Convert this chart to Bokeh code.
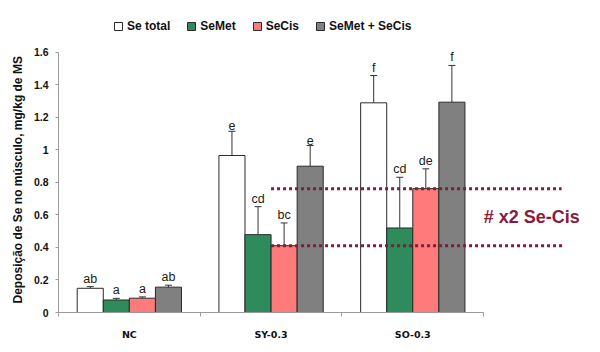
from bokeh.plotting import figure
from bokeh.models import (Range1d, FixedTicker, Legend, LegendItem, Whisker,
                          TeeHead, ColumnDataSource, Label, Title)
from bokeh.core.properties import value
from bokeh.embed import file_html
from bokeh.resources import INLINE

# ---------------- data ----------------
groups = ["NC", "SY-0.3", "SO-0.3"]
series_names = ["Se total", "SeMet", "SeCis", "SeMet + SeCis"]
se_total = [0.149, 0.966, 1.29]
semet = [0.077, 0.479, 0.52]
secis = [0.088, 0.411, 0.762]
semet_secis = [0.156, 0.90, 1.294]
se_total_err = [0.010, 0.149, 0.168]
semet_err = [0.010, 0.172, 0.312]
secis_err = [0.008, 0.140, 0.122]
semet_secis_err = [0.012, 0.127, 0.226]
se_total_letters = ["ab", "e", "f"]
semet_letters = ["a", "cd", "cd"]
secis_letters = ["a", "bc", "de"]
semet_secis_letters = ["ab", "e", "f"]
y_ticks = [0, 0.2, 0.4, 0.6, 0.8, 1.0, 1.2, 1.4, 1.6]
y_tick_labels = ["0", "0.2", "0.4", "0.6", "0.8", "1", "1.2", "1.4", "1.6"]
annotation_text = "# x2 Se-Cis"
y_label = "Deposição de Se no músculo, mg/kg de MS"

values = [se_total, semet, secis, semet_secis]
errors = [se_total_err, semet_err, secis_err, semet_secis_err]
letters = [se_total_letters, semet_letters, secis_letters, semet_secis_letters]
colors = ["#ffffff", "#2e8b5b", "#ff7b7b", "#808080"]

# ---------------- figure ----------------
p = figure(width=600, height=352, output_backend="svg", toolbar_location=None,
           x_range=Range1d(0, 3.754), y_range=Range1d(0, 1.858),
           min_border_left=58, min_border_right=10, min_border_top=10,
           min_border_bottom=40)
p.outline_line_color = None
p.xgrid.grid_line_color = None
p.ygrid.grid_line_color = None
p.background_fill_color = "white"

bw = 0.184
legend_items = []
for j, (name, vals, errs, lets, col) in enumerate(zip(series_names, values, errors, letters, colors)):
    xs = [i + 0.5 + (j - 1.5) * bw for i in range(len(groups))]
    upper = [v + e for v, e in zip(vals, errs)]
    src = ColumnDataSource(dict(x=xs, top=vals, upper=upper, lab=lets))
    r = p.vbar(x="x", top="top", width=bw, source=src, fill_color=col,
               line_color="#2a2a2a", line_width=1)
    legend_items.append(LegendItem(label=name, renderers=[r]))
    w = Whisker(source=src, base="x", upper="upper", lower="top", dimension="height",
                line_color="#333333", line_width=1,
                upper_head=TeeHead(size=7, line_color="#333333", line_width=1),
                lower_head=None)
    p.add_layout(w)
    p.text(x="x", y="upper", text="lab", source=src, text_align="center",
           text_baseline="bottom", y_offset=-1, text_font=value("Liberation Sans"),
           text_font_size="12.5px", text_color="#1a1a1a")

# dotted reference lines at the SeCis levels of SY-0.3 and SO-0.3
p.segment(x0=[1.5, 1.5], x1=[3.55, 3.57], y0=[secis[2], secis[1]], y1=[secis[2], secis[1]],
          line_color="#7b1f38", line_width=3, line_dash="3 3")
p.add_layout(Label(x=3.0, y=(secis[1] + secis[2]) / 2, text=annotation_text,
                   text_baseline="middle", text_align="left",
                   text_font="Liberation Sans", text_font_style="bold",
                   text_font_size="18px", text_color="#8b1a3c"))

# x axis
xa = p.xaxis[0]
xa.ticker = FixedTicker(ticks=[0.5, 1.5, 2.5], minor_ticks=[0, 1, 2, 3])
xa.major_label_overrides = {0.5: groups[0], 1.5: groups[1], 2.5: groups[2]}
xa.bounds = (0, 3)
xa.axis_line_color = "#9a9a9a"
xa.major_tick_out = 0
xa.major_tick_in = 0
xa.major_tick_line_color = None
xa.minor_tick_out = 4
xa.minor_tick_in = 0
xa.minor_tick_line_color = "#9a9a9a"
xa.major_label_standoff = 12
xa.major_label_text_font = "DejaVu Sans"
xa.major_label_text_font_style = "bold"
xa.major_label_text_font_size = "9.5px"
xa.major_label_text_color = "#111111"

# y axis
ya = p.yaxis[0]
ya.ticker = FixedTicker(ticks=y_ticks, minor_ticks=[])
ya.major_label_overrides = {t: l for t, l in zip(y_ticks, y_tick_labels)}
ya.bounds = (0, 1.6)
ya.axis_line_color = "#9a9a9a"
ya.major_tick_line_color = "#9a9a9a"
ya.major_tick_out = 3
ya.major_tick_in = 0
ya.minor_tick_line_color = None
ya.major_label_standoff = 7
ya.major_label_text_font = "Liberation Sans"
ya.major_label_text_font_style = "bold"
ya.major_label_text_font_size = "10.5px"
ya.major_label_text_color = "#111111"

# y axis title (as a left-side title so it can sit along the 0-1.6 span)
p.add_layout(Title(text=y_label, align="left", offset=9, standoff=12,
                   text_font="Liberation Sans", text_font_style="bold",
                   text_font_size="12px", text_color="#111111"), "left")

legend = Legend(items=legend_items, orientation="horizontal", location=(55, 279),
                glyph_width=10, glyph_height=10, label_standoff=4, spacing=16,
                padding=2, margin=0, border_line_color=None,
                background_fill_alpha=0,
                label_text_font="Liberation Sans", label_text_font_style="bold",
                label_text_font_size="12px", label_text_color="#111111")
p.add_layout(legend, "center")

open("out.html", "w").write(file_html(p, INLINE))
